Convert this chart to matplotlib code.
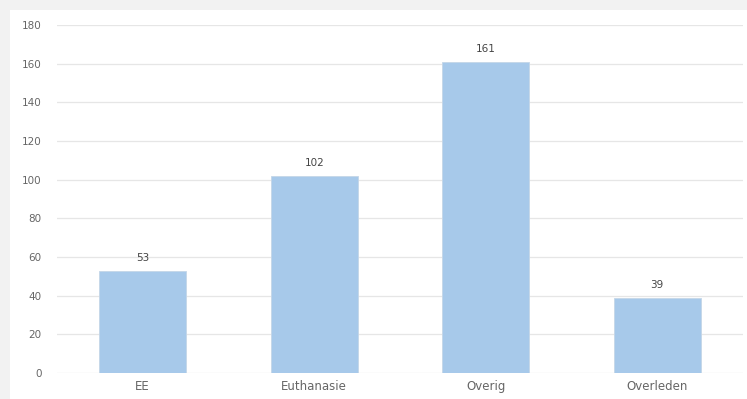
import matplotlib
matplotlib.use('Agg')
import matplotlib.pyplot as plt
from matplotlib.patches import Rectangle

categories = ['EE', 'Euthanasie', 'Overig', 'Overleden']
counts = [53, 102, 161, 39]
yticks = [0, 20, 40, 60, 80, 100, 120, 140, 160, 180]

fig = plt.figure(figsize=(7.47, 3.99), dpi=100)
fig.patch.set_facecolor('#f2f2f2')
# white card behind the chart
card = Rectangle((10/747, 0), 1, 1 - 10/399, transform=fig.transFigure,
                 facecolor='white', edgecolor='none', zorder=-5)
fig.patches.append(card)

ax = fig.add_axes([57/747, 26/399, 686/747, 348/399])
ax.set_facecolor('none')

ax.bar(range(len(categories)), counts, width=0.51, color='#a7c9ea',
       edgecolor='#c4d6e8', linewidth=0.6, zorder=3)
for i, v in enumerate(counts):
    ax.text(i, v + 4, str(v), ha='center', va='bottom', fontsize=7.5, color='#444444')

ax.set_xlim(-0.5, 3.5)
ax.set_ylim(0, 180)
ax.set_yticks(yticks)
ax.set_xticks(range(len(categories)))
ax.set_xticklabels(categories)
ax.grid(axis='y', color='#e6e6e6', linewidth=0.9, zorder=0)
for s in ax.spines.values():
    s.set_visible(False)
ax.tick_params(axis='both', length=0, labelsize=7.5, labelcolor='#666666')
ax.tick_params(axis='x', labelsize=8.5, pad=5)
ax.tick_params(axis='y', pad=11)

plt.savefig('out.png', dpi=100, facecolor=fig.get_facecolor())
